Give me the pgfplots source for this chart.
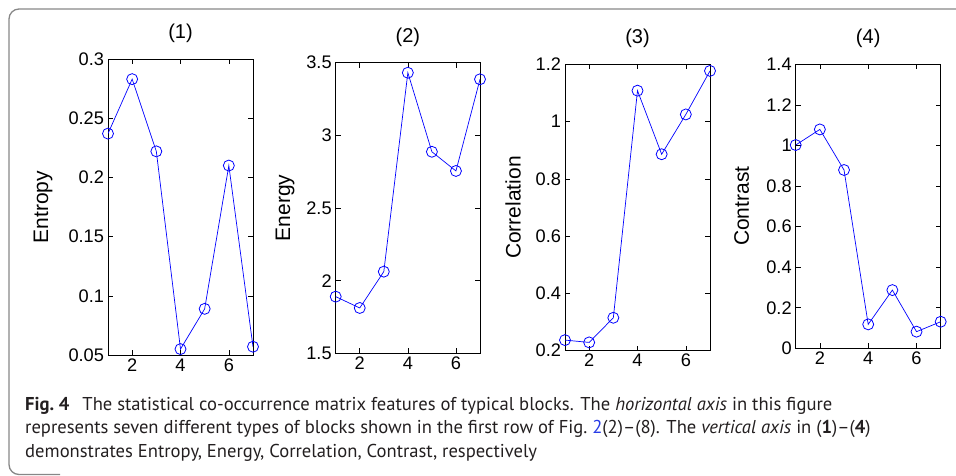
\documentclass[border=0pt]{standalone}
\usepackage{fontspec}
\setmainfont{Liberation Sans}
\newfontfamily\capfont{PT Sans}
\usepackage{pgfplots}
\pgfplotsset{compat=1.18}
\definecolor{capblue}{RGB}{40,60,230}
\definecolor{captext}{RGB}{35,31,32}
\definecolor{boxgray}{RGB}{135,135,135}
\pgfplotsset{mstyle/.style={
  scale only axis, anchor=south west,
  xmin=1, xmax=7, xtick={2,4,6},
  tick align=inside, major tick length=5pt,
  axis line style={line width=0.8pt, black},
  every tick/.style={black, line width=0.6pt},
  /pgf/number format/assume math mode=true,
  ticklabel style={font=\fontsize{18.2}{18}\selectfont},
  yticklabel style={xshift=-0.5pt},
  label style={font=\fontsize{21}{22}\selectfont},
  title style={font=\fontsize{20}{22}\selectfont, at={(axis description cs:0.5,1)}, anchor=south, yshift=7pt},
  },
  ser/.style={draw=blue, line width=0.7pt, mark=o, mark size=5.5pt, mark options={draw=blue, fill=none, line width=0.8pt, solid}},
}
\begin{document}
\begin{tikzpicture}
\path[use as bounding box] (0,0) rectangle (956pt,-475pt);
\draw[boxgray, line width=1.3pt, rounded corners=10pt] (60pt,-474.5pt) -- (9pt,-474.5pt) -- (9pt,-9pt) -- (990pt,-9pt);

% (1)
\begin{axis}[mstyle, at={(108pt,-355pt)}, width=145pt, height=296pt,
  ymin=0.05, ymax=0.3, ytick={0.05,0.1,0.15,0.2,0.25,0.3},
  yticklabels={0.05,0.1,0.15,0.2,0.25,0.3},
  title={(1)}, ylabel={Entropy},
  ylabel style={at={(axis description cs:-0.448,0.5)}, anchor=center}]
\addplot[ser] coordinates {(1,0.237) (2,0.283) (3,0.222) (4,0.055) (5,0.089) (6,0.210) (7,0.057)};
\end{axis}

% (2)
\begin{axis}[mstyle, at={(335.7pt,-353.3pt)}, width=144.3pt, height=290.6pt,
  ymin=1.5, ymax=3.5, ytick={1.5,2,2.5,3,3.5},
  yticklabels={1.5,2,2.5,3,3.5},
  title={(2)}, ylabel={Energy},
  ylabel style={at={(axis description cs:-0.351,0.5)}, anchor=center}]
\addplot[ser] coordinates {(1,1.890) (2,1.812) (3,2.062) (4,3.431) (5,2.887) (6,2.755) (7,3.386)};
\end{axis}

% (3)
\begin{axis}[mstyle, at={(565pt,-350.7pt)}, width=145pt, height=286.4pt,
  ymin=0.2, ymax=1.2, ytick={0.2,0.4,0.6,0.8,1,1.2},
  yticklabels={0.2,0.4,0.6,0.8,1,1.2},
  title={(3)}, ylabel={Correlation},
  ylabel style={at={(axis description cs:-0.357,0.5)}, anchor=center}]
\addplot[ser] coordinates {(1,0.237) (2,0.229) (3,0.315) (4,1.108) (5,0.886) (6,1.025) (7,1.177)};
\end{axis}

% (4)
\begin{axis}[mstyle, at={(795.7pt,-348.3pt)}, width=145pt, height=284pt,
  ymin=0, ymax=1.4, ytick={0,0.2,0.4,0.6,0.8,1,1.2,1.4},
  yticklabels={0,0.2,0.4,0.6,0.8,1,1.2,1.4},
  title={(4)}, ylabel={Contrast},
  ylabel style={at={(axis description cs:-0.372,0.5)}, anchor=center}]
\addplot[ser] coordinates {(1,1.002) (2,1.079) (3,0.879) (4,0.118) (5,0.287) (6,0.082) (7,0.131)};
\end{axis}

\begin{scope}[every node/.style={anchor=base west, inner sep=0pt, text=captext, font=\capfont\fontsize{18.6}{22}\selectfont}]
\node at (25pt,-410.5pt) {\textbf{Fig.~4}\hspace{13pt}The statistical co-occurrence matrix features of typical blocks. The \textit{horizontal axis} in this figure};
\node at (25pt,-433.8pt) {represents seven different types of blocks shown in the first row of Fig.~{\color{capblue}2}(2)–(8). The \textit{vertical axis} in (\textbf{1})–(\textbf{4})};
\node at (25pt,-457pt) {demonstrates Entropy, Energy, Correlation, Contrast, respectively};
\end{scope}
\end{tikzpicture}
\end{document}
